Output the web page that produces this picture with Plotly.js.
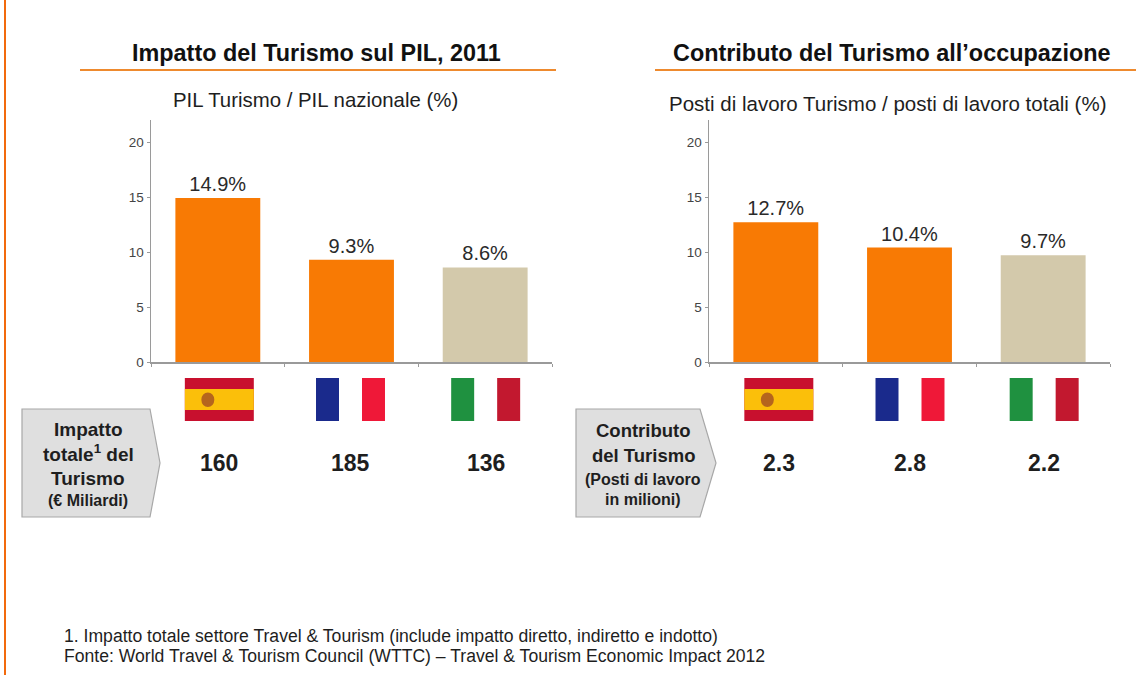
<!DOCTYPE html>
<html><head><meta charset="utf-8">
<script src="https://cdn.plot.ly/plotly-3.0.1.min.js"></script>
<style>html,body{margin:0;padding:0;background:#fff}#c{width:1142px;height:675px}</style></head>
<body><div id="c"></div>
<script>
const countries = ['Spagna', 'Francia', 'Italia'];
const pilShare = [14.9, 9.3, 8.6];
const jobShare = [12.7, 10.4, 9.7];
const impactTotal = ['160', '185', '136'];
const jobsTotal = ['2.3', '2.8', '2.2'];
const yTicks = [0, 5, 10, 15, 20];
const barColors = ['#f87a04', '#f87a04', '#d3c9ab'];
const footLines = ['1. Impatto totale settore Travel &amp; Tourism (include impatto diretto, indiretto e indotto)',
  'Fonte: World Travel &amp; Tourism Council (WTTC) – Travel &amp; Tourism Economic Impact 2012'];

const W = 1142, H = 675;
const px = v => v / W, py = v => 1 - v / H;
const FONT = '"Liberation Sans", Arial, sans-serif';
const shapes = [], annotations = [];

function text(x, y, t, size, opts = {}) {
  annotations.push(Object.assign({xref: 'paper', yref: 'paper', x: px(x), y: py(y), text: t, showarrow: false,
    xanchor: 'center', yanchor: 'middle', borderpad: 0, font: {family: FONT, size, color: opts.color || '#1e1e1e'}}, opts.extra || {}));
}
function rect(xref, x0, x1, y0, y1, color) {
  shapes.push({type: 'rect', xref, yref: 'paper', x0, x1, y0: py(y0), y1: py(y1), fillcolor: color, line: {width: 0}, layer: 'above'});
}
function line(x0, y0, x1, y1, color, width) {
  shapes.push({type: 'line', xref: 'paper', yref: 'paper', x0: px(x0), x1: px(x1), y0: py(y0), y1: py(y1), line: {color, width}});
}
function spain(xr, cat, step) {
  const a = cat - 34.5 / step, b = cat + 34.5 / step;
  rect(xr, a, b, 378, 421, '#c8102e');
  rect(xr, a, b, 389, 410, '#fbbf0a');
  shapes.push({type: 'circle', xref: xr, yref: 'paper', x0: cat - 18 / step, x1: cat - 5 / step, y0: py(392.5), y1: py(407), fillcolor: '#b5651d', line: {width: 0}, layer: 'above'});
}
function tricolor(xr, cat, step, left, right) {
  rect(xr, cat - 34.5 / step, cat - 11.5 / step, 378, 421, left);
  rect(xr, cat + 11.5 / step, cat + 34.5 / step, 378, 421, right);
}
function pentagon(x0, x1, xs) {
  const p = (x, y) => px(x) + ',' + py(y);
  shapes.push({type: 'path', xref: 'paper', yref: 'paper',
    path: 'M' + p(x0, 409) + ' L' + p(xs, 409) + ' L' + p(x1, 463) + ' L' + p(xs, 517) + ' L' + p(x0, 517) + ' Z',
    fillcolor: '#dfdfdf', line: {color: '#a8a8a8', width: 1.2}, layer: 'below'});
}

// frame and rules
line(5, 0, 5, 675, '#f26a0d', 2);
line(80, 70, 556, 70, '#ee8a2e', 2);
line(655, 70, 1136, 70, '#ee8a2e', 2);

// headings
text(316, 53, '<b>Impatto del Turismo sul PIL, 2011</b>', 23.4, {color: '#111'});
text(892, 53, '<b>Contributo del Turismo all’occupazione</b>', 23.4, {color: '#111'});
text(315, 100, 'PIL Turismo / PIL nazionale (%)', 20.4);
text(888, 104, 'Posti di lavoro Turismo / posti di lavoro totali (%)', 20.5);

// flags and value rows, aligned to the category scale of each chart
const STEP = 133.7;
const rows = [
  {xr: 'x', vals: impactTotal, off: [1.5, -1, 0.5]},
  {xr: 'x2', vals: jobsTotal, off: [3, 0.5, 1]}
];
rows.forEach(({xr, vals, off}) => {
  spain(xr, 0 + off[0] / STEP, STEP);
  tricolor(xr, 1 + off[1] / STEP, STEP, '#1a2a8c', '#ef1838');
  tricolor(xr, 2 + off[2] / STEP, STEP, '#1f9140', '#c2182f');
  vals.forEach((v, i) => annotations.push({xref: xr, yref: 'paper', x: i + off[i] / STEP, y: py(463), yanchor: 'middle', text: '<b>' + v + '</b>',
    showarrow: false, font: {family: FONT, size: 23, color: '#1e1e1e'}}));
});

// call-out boxes
pentagon(22, 160, 150);
pentagon(576, 716, 700);
text(88, 429, '<b>Impatto</b>', 19);
text(88, 453, '<b>totale<sup>1</sup> del</b>', 19);
text(88, 478, '<b>Turismo</b>', 19);
text(88, 500, '<b>(€ Miliardi)</b>', 16);
text(643, 430, '<b>Contributo</b>', 18.5);
text(643, 455, '<b>del Turismo</b>', 18.5);
text(643, 479, '<b>(Posti di lavoro</b>', 16);
text(643, 499, '<b>in milioni)</b>', 16);

// footnotes
text(63, 636, footLines[0], 17.6, {extra: {xanchor: 'left'}});
text(63, 656, footLines[1], 17.6, {extra: {xanchor: 'left'}});

function bars(values, xa, ya) {
  return {type: 'bar', x: countries, y: values, xaxis: xa, yaxis: ya,
    marker: {color: barColors, line: {width: 0}},
    text: values.map(v => v.toFixed(1) + '%'), textposition: 'outside', cliponaxis: false,
    textfont: {family: FONT, size: 20, color: '#2a2a2a'}, showlegend: false};
}
const xAxis = (l, r, y) => ({domain: [px(l), px(r)], anchor: y, type: 'category', categoryorder: 'array', categoryarray: countries,
  range: [-0.5, 2.5], showgrid: false, zeroline: false, showticklabels: false, ticks: 'outside', ticklen: 3, tickson: 'boundaries',
  tickcolor: '#9a9a9a', showline: true, linecolor: '#9a9a9a', linewidth: 1.5});
const yAxis = (xa) => ({domain: [py(362), py(120)], anchor: xa, range: [0, 22], tickmode: 'array', tickvals: yTicks, showgrid: false, zeroline: false,
  ticks: 'outside', ticklen: 3, tickcolor: '#9a9a9a', showline: true, linecolor: '#9a9a9a', linewidth: 1.5,
  tickfont: {family: FONT, size: 13.5, color: '#444'}});

Plotly.newPlot('c', [bars(pilShare, 'x', 'y'), bars(jobShare, 'x2', 'y2')], {
  width: W, height: H, margin: {l: 0, r: 0, t: 0, b: 0}, paper_bgcolor: '#fff', plot_bgcolor: 'rgba(0,0,0,0)',
  bargap: 0.365, font: {family: FONT},
  xaxis: xAxis(151, 552, 'y'), yaxis: yAxis('x'), xaxis2: xAxis(709, 1110, 'y2'), yaxis2: yAxis('x2'),
  shapes, annotations
}, {staticPlot: true});
</script></body></html>
